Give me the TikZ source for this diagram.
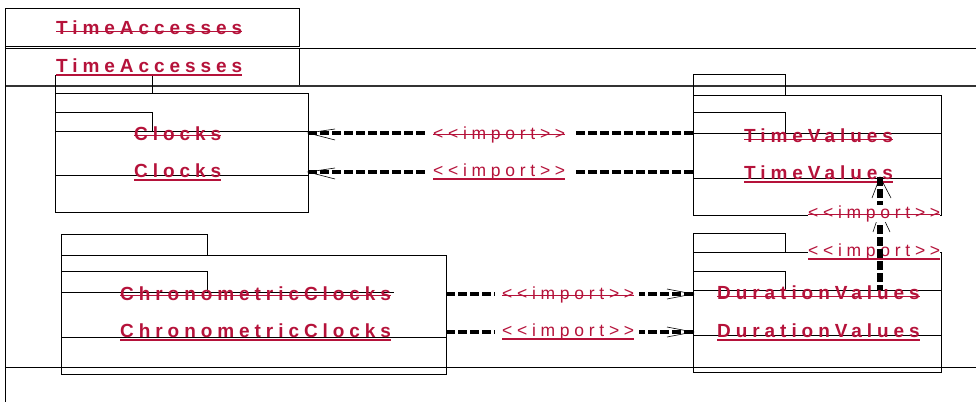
\documentclass[tikz,border=0pt]{standalone}
\usepackage{fontspec}
\newfontfamily\lblfont[LetterSpace=26]{Liberation Sans}
\newfontfamily\impfont[LetterSpace=27]{Liberation Sans}
\definecolor{umlred}{RGB}{181,18,58}
\tikzset{
  pkg/.style={draw=black, line width=0.8pt},
  lbl/.style={font=\lblfont\bfseries\fontsize{19}{19}\selectfont, text=umlred, inner sep=0pt, anchor=base west},
  imp/.style={font=\impfont\fontsize{17.5}{17.5}\selectfont, text=umlred, inner sep=0pt, anchor=base west},
  strk/.style={draw=umlred, line width=1pt},
  undl/.style={draw=umlred, line width=1.6pt},
  dep/.style={line width=4.5pt, dash pattern=on 9pt off 3pt},
  barb/.style={line width=0.6pt}
}
\begin{document}
\begin{tikzpicture}[x=1pt,y=-1pt]
\useasboundingbox (0,0) rectangle (976,402);
% outer frame
\draw[pkg] (5,8) rectangle (299,46);
\draw[pkg] (299,48) -- (299,85);
\draw[pkg] (5,48) -- (976,48);
\draw[pkg, line width=1.4pt, black!80] (5,86) -- (976,86);
\draw[pkg] (5,8) -- (5,402);
\draw[pkg] (5,367) -- (976,367);
% Clocks
\draw[pkg] (55,75) rectangle (152,93);
\draw[pkg] (55,93) rectangle (308,212);
\draw[pkg] (55,112) -- (152,112) -- (152,131);
\draw[pkg] (55,131) -- (308,131);
\draw[pkg] (55,175) -- (308,175);
% TimeValues
\draw[pkg] (693,74) rectangle (785,95);
\draw[pkg] (693,95) rectangle (941,215);
\draw[pkg] (693,112) -- (785,112) -- (785,133);
\draw[pkg] (693,133) -- (941,133);
\draw[pkg] (693,178) -- (941,178);
% DurationValues
\draw[pkg] (693,233) rectangle (785,252);
\draw[pkg] (693,252) rectangle (941,372);
\draw[pkg] (693,271) -- (785,271) -- (785,290);
\draw[pkg] (693,290) -- (941,290);
\draw[pkg] (693,335) -- (941,335);
% ChronometricClocks
\draw[pkg] (61,234) rectangle (207,255);
\draw[pkg] (61,255) rectangle (446,374);
\draw[pkg] (61,271) -- (207,271) -- (207,292);
\draw[pkg] (61,292) -- (394,292);
\draw[pkg] (61,337) -- (446,337);

% labels
\node[lbl] (ta1) at (56,34) {TimeAccesses};
\draw[strk] ([yshift=3pt]ta1.base west) -- ([yshift=3pt]ta1.base east);
\node[lbl] (ta2) at (56,72) {TimeAccesses};
\draw[undl] ([yshift=-3pt]ta2.base west) -- ([yshift=-3pt]ta2.base east);
\node[lbl] (cl1) at (134,140) {Clocks};
\draw[strk] ([yshift=5pt]cl1.base west) -- ([yshift=5pt]cl1.base east);
\node[lbl] (cl2) at (134,177) {Clocks};
\draw[undl] ([yshift=-3pt]cl2.base west) -- ([yshift=-3pt]cl2.base east);
\node[lbl] (tv1) at (744,142) {TimeValues};
\draw[strk] ([yshift=3pt]tv1.base west) -- ([yshift=3pt]tv1.base east);
\node[lbl] (tv2) at (744,179) {TimeValues};
\draw[undl] ([yshift=-3pt]tv2.base west) -- ([yshift=-3pt]tv2.base east);
\node[lbl] (dv1) at (717,299) {DurationValues};
\draw[strk] ([yshift=3pt]dv1.base west) -- ([yshift=3pt]dv1.base east);
\node[lbl] (dv2) at (717,337) {DurationValues};
\draw[undl] ([yshift=-3pt]dv2.base west) -- ([yshift=-3pt]dv2.base east);
\node[lbl] (cc1) at (120,300) {ChronometricClocks};
\draw[strk] ([yshift=5pt]cc1.base west) -- ([yshift=5pt]cc1.base east);
\node[lbl] (cc2) at (120,337) {ChronometricClocks};
\draw[undl] ([yshift=-3pt]cc2.base west) -- ([yshift=-3pt]cc2.base east);

% Clocks <- TimeValues imports
\foreach \y/\n in {133/a,172/b} {
  \coordinate (ctip\n) at (308,\y);
  \coordinate (cmidl\n) at (427,\y);
  \coordinate (cmidr\n) at (574,\y);
  \coordinate (ctail\n) at (693,\y);
  \draw[dep] (ctip\n) -- (cmidl\n);
  \draw[dep] (ctail\n) -- (cmidr\n);
  \draw[barb] ([shift={(27,-4)}]ctip\n) -- (ctip\n) -- ([shift={(27,7)}]ctip\n);
}
\node[imp] (ci1) at (433,139) {<{}<import>{}>};
\draw[strk] ([yshift=5pt]ci1.base west) -- ([yshift=5pt]ci1.base east);
\node[imp] (ci2) at (433,176) {<{}<import>{}>};
\draw[undl] ([yshift=-3pt]ci2.base west) -- ([yshift=-3pt]ci2.base east);

% ChronometricClocks -> DurationValues imports
\foreach \y/\n in {294/a,332/b} {
  \coordinate (dtail\n) at (446,\y);
  \coordinate (dmidl\n) at (495,\y);
  \coordinate (dmidr\n) at (639,\y);
  \coordinate (dtip\n) at (693,\y);
  \draw[dep] (dtail\n) -- (dmidl\n);
  \draw[dep] (dtip\n) -- (dmidr\n);
  \draw[barb] ([shift={(-26,-5)}]dtip\n) -- (dtip\n) -- ([shift={(-26,5)}]dtip\n);
}
\node[imp] (di1) at (502,299) {<{}<import>{}>};
\draw[strk] ([yshift=4pt]di1.base west) -- ([yshift=4pt]di1.base east);
\node[imp] (di2) at (502,336) {<{}<import>{}>};
\draw[undl] ([yshift=-3pt]di2.base west) -- ([yshift=-3pt]di2.base east);

% DurationValues -> TimeValues import (vertical)
\node[imp, fill=white] (vi2) at (808,256) {<{}<import>{}>};
\draw[undl] ([yshift=-3pt]vi2.base west) -- ([yshift=-3pt]vi2.base east);
\coordinate (vtip) at (880,177);
\coordinate (vtail) at (880,290);
\coordinate (vtip2) at (880,211);
\draw[dep, line width=6pt] (vtip) -- (vtail);
\draw[barb] ([shift={(-8,21)}]vtip) -- (vtip) -- ([shift={(11,21)}]vtip);
\draw[barb] ([shift={(-7,21)}]vtip2) -- (vtip2) -- ([shift={(10,21)}]vtip2);
\node[imp, fill=white] (vi1) at (808,218) {<{}<import>{}>};
\draw[strk] ([yshift=4pt]vi1.base west) -- ([yshift=4pt]vi1.base east);
\end{tikzpicture}
\end{document}
